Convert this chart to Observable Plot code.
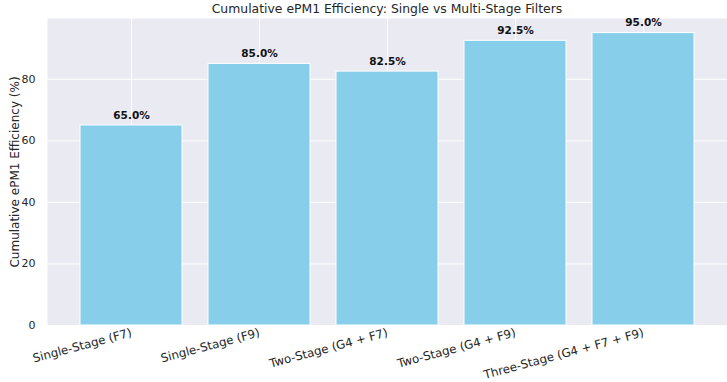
<!DOCTYPE html>
<html>
<head>
<meta charset="utf-8">
<script src="https://cdn.jsdelivr.net/npm/d3@7"></script>
<script src="https://cdn.jsdelivr.net/npm/@observablehq/plot@0.6"></script>
<style>
body { margin: 0; background: #fff; font-family: "DejaVu Sans", sans-serif; }
#wrap { position: relative; width: 727px; height: 382px; }
#title { position: absolute; left: 0; top: 0; width: 727px; height: 18px; line-height: 17px; padding-left: 47px; box-sizing: border-box; text-align: center; font-size: 12.4px; color: #262626; }
</style>
</head>
<body>
<div id="wrap">
<div id="chart"></div>
<div id="title">Cumulative ePM1 Efficiency: Single vs Multi-Stage Filters</div>
</div>
<script>
const categories = ["Single-Stage (F7)", "Single-Stage (F9)", "Two-Stage (G4 + F7)", "Two-Stage (G4 + F9)", "Three-Stage (G4 + F7 + F9)"];
const efficiency = [65.0, 85.0, 82.5, 92.5, 95.0];
const yTicks = [0, 20, 40, 60, 80];

const data = categories.map((c, i) => ({category: c, value: efficiency[i]}));

const chart = Plot.plot({
  width: 727,
  height: 382,
  marginTop: 18,
  marginLeft: 47,
  marginRight: 0,
  marginBottom: 57,
  style: {fontFamily: "DejaVu Sans, sans-serif", fontSize: "11px", color: "#262626", background: "transparent"},
  x: {domain: categories, paddingInner: 0.2, paddingOuter: 0.24, label: null},
  y: {domain: [0, 99.75], label: null},
  marks: [
    Plot.frame({fill: "#EAEAF2", stroke: null}),
    Plot.gridX({stroke: "white", strokeOpacity: 1, strokeWidth: 1}),
    Plot.gridY(yTicks, {stroke: "white", strokeOpacity: 1, strokeWidth: 1}),
    Plot.barY(data, {x: "category", y: "value", fill: "#87CEEB", stroke: "white", strokeWidth: 1}),
    Plot.text(data, {x: "category", y: "value", text: d => d.value.toFixed(1) + "%", dy: -10, fontWeight: "bold", fontSize: 10.5, fill: "#111"}),
    Plot.axisY(yTicks, {tickSize: 0, tickPadding: 12, fontSize: 11, label: null}),
    Plot.axisY([], {tickSize: 0, fontSize: 12, label: "Cumulative ePM1 Efficiency (%)", labelAnchor: "center", labelArrow: "none", labelOffset: 37}),
    Plot.axisX({tickSize: 0, tickPadding: 7, tickRotate: -15, fontSize: 11.8, label: null})
  ]
});
document.getElementById("chart").appendChild(chart);
</script>
</body>
</html>
